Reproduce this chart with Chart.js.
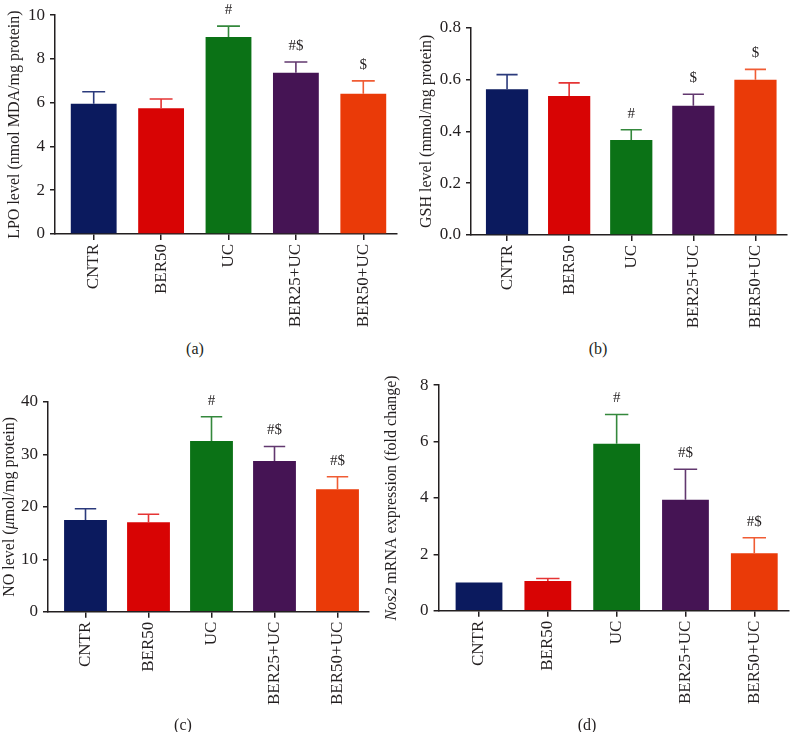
<!DOCTYPE html>
<html>
<head>
<meta charset="utf-8">
<script src="https://cdn.jsdelivr.net/npm/chart.js@4.4.1/dist/chart.umd.min.js"></script>
<style>
  body { margin: 0; background: #fff; }
  #wrap { position: relative; width: 790px; height: 732px; overflow: hidden; }
  canvas, .cap { position: absolute; }
  .cap { font: 16px "Liberation Serif", serif; color: #231f20; transform: translate(-50%, -50%); }
</style>
</head>
<body>
<div id="wrap">
  <canvas id="chartA" width="400" height="340" style="left:0;top:0"></canvas>
  <canvas id="chartB" width="390" height="340" style="left:400px;top:0"></canvas>
  <canvas id="chartC" width="400" height="362" style="left:0;top:370px"></canvas>
  <canvas id="chartD" width="410" height="362" style="left:380px;top:370px"></canvas>
  <div class="cap" style="left:195px;top:349px">(a)</div>
  <div class="cap" style="left:598px;top:349px">(b)</div>
  <div class="cap" style="left:183px;top:725px">(c)</div>
  <div class="cap" style="left:587px;top:725px">(d)</div>
</div>
<script>
const groups = ['CNTR', 'BER50', 'UC', 'BER25+UC', 'BER50+UC'];
const barColors = ['#0b1a5e', '#d80404', '#0b7216', '#451454', '#ea3a08'];
const errColors = ['#2b3a7c', '#e53434', '#34883c', '#62386f', '#f05c34'];

// (a) LPO
const lpoMean = [5.95, 5.75, 9.0, 7.37, 6.41];
const lpoErr = [0.55, 0.42, 0.5, 0.49, 0.59];
const lpoMarks = ['', '', '#', '#$', '$'];
const lpoTicks = [0, 2, 4, 6, 8, 10];
const lpoTickLabels = ['0', '2', '4', '6', '8', '10'];

// (b) GSH
const gshMean = [0.562, 0.536, 0.367, 0.499, 0.599];
const gshErr = [0.057, 0.051, 0.039, 0.044, 0.040];
const gshMarks = ['', '', '#', '$', '$'];
const gshTicks = [0, 0.2, 0.4, 0.6, 0.8];
const gshTickLabels = ['0.0', '0.2', '0.4', '0.6', '0.8'];

// (c) NO
const noMean = [17.5, 17.05, 32.56, 28.75, 23.35];
const noErr = [2.15, 1.55, 4.64, 2.75, 2.4];
const noMarks = ['', '', '#', '#$', '#$'];
const noTicks = [0, 10, 20, 30, 40];
const noTickLabels = ['0', '10', '20', '30', '40'];

// (d) Nos2
const nos2Mean = [1.0, 1.05, 5.92, 3.94, 2.04];
const nos2Err = [0, 0.09, 1.04, 1.08, 0.55];
const nos2Marks = ['', '', '#', '#$', '#$'];
const nos2Ticks = [0, 2, 4, 6, 8];
const nos2TickLabels = ['0', '2', '4', '6', '8'];

const FONT = '"Liberation Serif", "Times New Roman", serif';
const INK = '#231f20';

// push the y axis a few px left of the first bar, like the original plots
const axisShift = {
  id: 'axisShift',
  afterLayout(chart, args, opts) {
    const s = opts.shift || 0;
    const { x, y } = chart.scales;
    y.left -= s;
    y.right -= s;
    x.left -= s;
  }
};

const errorBars = {
  id: 'errorBars',
  afterDatasetsDraw(chart, args, opts) {
    const { ctx, scales: { y } } = chart;
    const meta = chart.getDatasetMeta(0);
    const means = chart.data.datasets[0].data;
    ctx.save();
    meta.data.forEach((bar, i) => {
      const err = opts.errors[i];
      const top = y.getPixelForValue(means[i] + err);
      if (err > 0) {
        const base = y.getPixelForValue(means[i]);
        const half = bar.width / 4;
        ctx.strokeStyle = errColors[i];
        ctx.lineWidth = 1.6;
        ctx.beginPath();
        ctx.moveTo(bar.x, base);
        ctx.lineTo(bar.x, top);
        ctx.moveTo(bar.x - half, top);
        ctx.lineTo(bar.x + half, top);
        ctx.stroke();
      }
      if (opts.marks[i]) {
        ctx.fillStyle = INK;
        ctx.font = '15px ' + FONT;
        ctx.textAlign = 'center';
        ctx.textBaseline = 'middle';
        ctx.fillText(opts.marks[i], bar.x, top - 16);
      }
    });
    ctx.restore();
  }
};

// y title drawn in pieces so parts can be italic
const yTitle = {
  id: 'yTitle',
  afterDraw(chart, args, opts) {
    const { ctx, chartArea } = chart;
    ctx.save();
    const fonts = opts.parts.map(p => (p.italic ? 'italic ' : '') + '16px ' + FONT);
    const widths = opts.parts.map((p, i) => { ctx.font = fonts[i]; return ctx.measureText(p.text).width; });
    const total = widths.reduce((a, b) => a + b, 0);
    ctx.translate(opts.x, (chartArea.top + chartArea.bottom) / 2);
    ctx.rotate(-Math.PI / 2);
    ctx.fillStyle = INK;
    ctx.textAlign = 'left';
    ctx.textBaseline = 'middle';
    let cx = -total / 2;
    opts.parts.forEach((p, i) => {
      ctx.font = fonts[i];
      ctx.fillText(p.text, cx, 0);
      cx += widths[i];
    });
    ctx.restore();
  }
};

const makePanel = (id, o) => {
  const canvas = document.getElementById(id);
  return new Chart(canvas, {
    type: 'bar',
    data: {
      labels: groups,
      datasets: [{
        data: o.mean,
        backgroundColor: barColors,
        borderWidth: 0,
        barPercentage: 0.68,
        categoryPercentage: 1
      }]
    },
    options: {
      responsive: false,
      animation: false,
      layout: { autoPadding: false, padding: { left: 0, top: o.top, right: canvas.width - o.right, bottom: 0 } },
      plugins: {
        legend: { display: false },
        tooltip: { enabled: false },
        axisShift: { shift: o.shift },
        errorBars: { errors: o.err, marks: o.marks },
        yTitle: { x: o.titleX, parts: o.title }
      },
      scales: {
        x: {
          grid: { offset: false, drawOnChartArea: false, tickLength: 6, color: INK, lineWidth: 1.5 },
          border: { color: INK, width: 1.5 },
          ticks: { color: INK, font: { family: FONT, size: 17 }, minRotation: 90, maxRotation: 90, autoSkip: false, padding: 4 },
          afterFit: s => { s.height = canvas.height - o.bottom; }
        },
        y: {
          min: 0,
          max: o.ticks[o.ticks.length - 1],
          afterBuildTicks: s => { s.ticks = o.ticks.map(v => ({ value: v })); },
          grid: { drawOnChartArea: false, tickLength: 5, color: INK, lineWidth: 1.5 },
          border: { color: INK, width: 1.5 },
          ticks: { color: INK, font: { family: FONT, size: 17 }, padding: 5, callback: (v, i) => o.tickLabels[i] },
          afterFit: s => { s.width = o.left; }
        }
      }
    },
    plugins: [axisShift, errorBars, yTitle]
  });
};

makePanel('chartA', {
  mean: lpoMean, err: lpoErr, marks: lpoMarks, ticks: lpoTicks, tickLabels: lpoTickLabels,
  left: 60, right: 397, top: 10, bottom: 234, shift: 5, titleX: 15,
  title: [{ text: 'LPO level (nmol MDA/mg protein)' }]
});

makePanel('chartB', {
  mean: gshMean, err: gshErr, marks: gshMarks, ticks: gshTicks, tickLabels: gshTickLabels,
  left: 76, right: 386.5, top: 27.7, bottom: 235, shift: 5, titleX: 27,
  title: [{ text: 'GSH level (mmol/mg protein)' }]
});

makePanel('chartC', {
  mean: noMean, err: noErr, marks: noMarks, ticks: noTicks, tickLabels: noTickLabels,
  left: 54, right: 369, top: 32, bottom: 241.7, shift: 6, titleX: 10,
  title: [{ text: 'NO level (' }, { text: 'μ', italic: true }, { text: 'mol/mg protein)' }]
});

makePanel('chartD', {
  mean: nos2Mean, err: nos2Err, marks: nos2Marks, ticks: nos2Ticks, tickLabels: nos2TickLabels,
  left: 64.6, right: 408.7, top: 11.7, bottom: 240.7, shift: 6, titleX: 12,
  title: [{ text: 'Nos2', italic: true }, { text: ' mRNA expression (fold change)' }]
});
</script>
</body>
</html>
